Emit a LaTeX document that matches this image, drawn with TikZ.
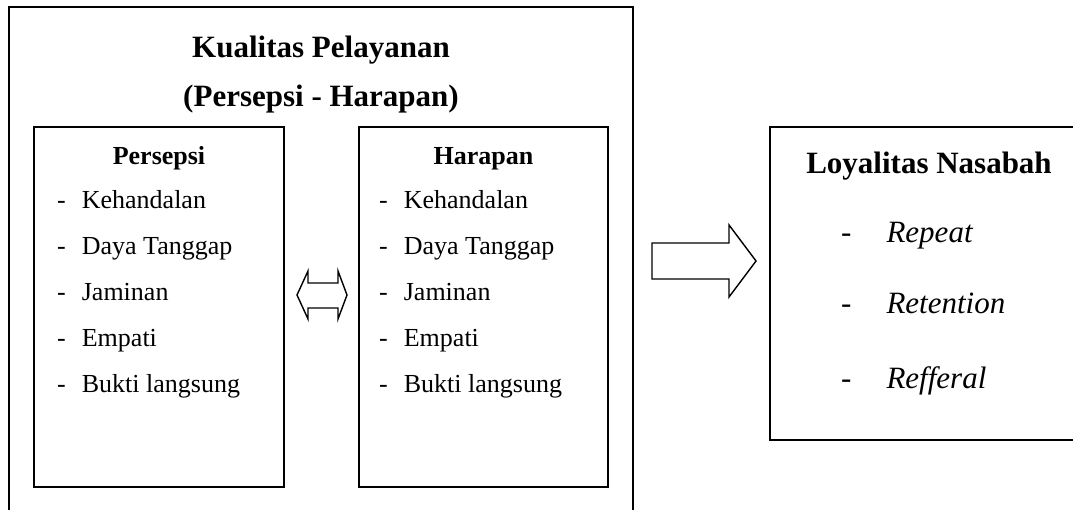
\documentclass[tikz,border=0pt]{standalone}
\usepackage{fontspec}
\setmainfont{Liberation Serif}
\usetikzlibrary{positioning}

\begin{document}
\begin{tikzpicture}[
    x=1pt, y=-1pt,
    box/.style={draw, line width=1.6pt, inner sep=0pt},
    head/.style={font=\fontsize{31}{36}\selectfont\bfseries, anchor=base, inner sep=0pt},
    sub/.style={font=\fontsize{26}{30}\selectfont\bfseries, anchor=base, inner sep=0pt},
    item/.style={font=\fontsize{26}{30}\selectfont, anchor=base west, inner sep=0pt},
    ritem/.style={font=\fontsize{31}{36}\selectfont\itshape, anchor=base west, inner sep=0pt},
    blk/.style={draw, line width=1.4pt, line join=miter},
]
\clip (0,0) rectangle (1073,510);

% Outer frame
\node[box, minimum width=624pt, minimum height=523pt] (kual) at (321,268.5) {};
\node[head] (kualt) at (321,58) {Kualitas Pelayanan};
\node[head] (kuals) at (321,107) {(Persepsi - Harapan)};

% Perception column
\node[box, minimum width=250pt, minimum height=360pt] (persepsi) at (159,307) {};
\node[sub] (persepsit) at (159,165) {Persepsi};
\node[item] (p1) at (57,209) {-\hspace{16pt}Kehandalan};
\node[item] (p2) at (57,255) {-\hspace{16pt}Daya Tanggap};
\node[item] (p3) at (57,301) {-\hspace{16pt}Jaminan};
\node[item] (p4) at (57,347) {-\hspace{16pt}Empati};
\node[item] (p5) at (57,392) {-\hspace{16pt}Bukti langsung};

% Expectation column
\node[box, minimum width=249pt, minimum height=360pt] (harapan) at (483.5,307) {};
\node[sub] (harapant) at (483.5,165) {Harapan};
\node[item] (h1) at (379,209) {-\hspace{16pt}Kehandalan};
\node[item] (h2) at (379,255) {-\hspace{16pt}Daya Tanggap};
\node[item] (h3) at (379,301) {-\hspace{16pt}Jaminan};
\node[item] (h4) at (379,347) {-\hspace{16pt}Empati};
\node[item] (h5) at (379,392) {-\hspace{16pt}Bukti langsung};

% Loyalty box
\node[box, minimum width=320pt, minimum height=313pt] (loyal) at (930,283.5) {};
\node[head] (loyalt) at (929,174) {Loyalitas Nasabah};
\node[ritem] (r1) at (841,243) {-\hspace{35pt}Repeat};
\node[ritem] (r2) at (841,314) {-\hspace{35pt}Retention};
\node[ritem] (r3) at (841,388) {-\hspace{35pt}Refferal};

% Block arrows
\draw[blk] (297,295) -- (308,271) -- (308,283) -- (338,283) -- (338,271) -- (347,295)
    -- (338,319) -- (338,308) -- (308,308) -- (308,319) -- cycle;
\draw[blk] (652,243) -- (729,243) -- (729,225) -- (756,261) -- (729,297) -- (729,279)
    -- (652,279) -- cycle;

\end{tikzpicture}
\end{document}
